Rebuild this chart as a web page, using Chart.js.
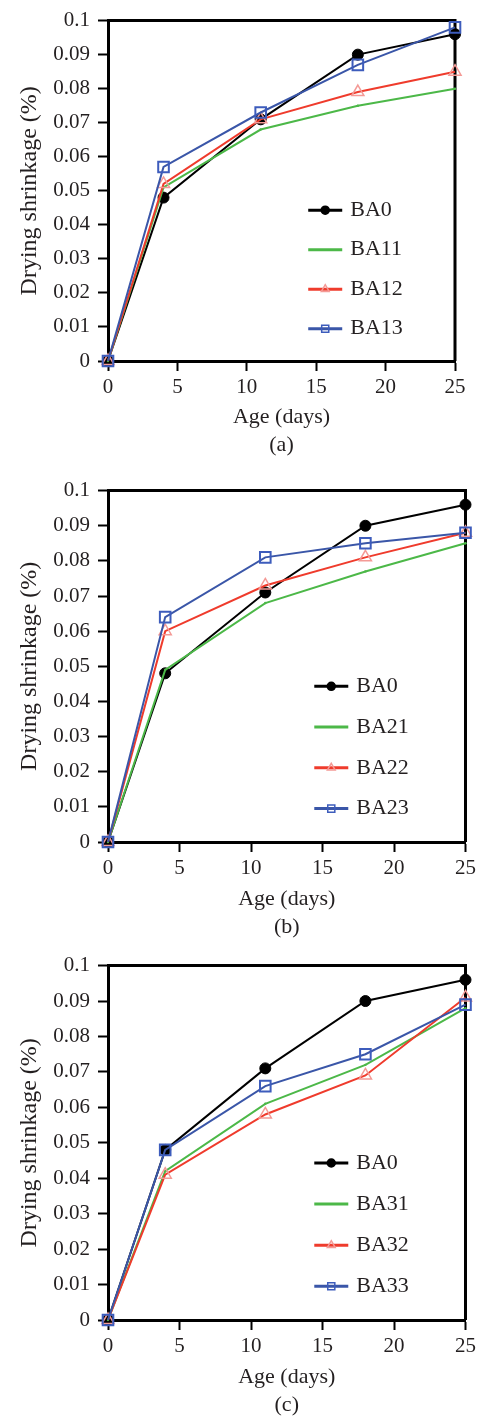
<!DOCTYPE html>
<html>
<head>
<meta charset="utf-8">
<script src="https://cdn.jsdelivr.net/npm/chart.js@4.4.0/dist/chart.umd.min.js"></script>
<style>
  html, body { margin: 0; padding: 0; background: #fff; }
  canvas { display: block; }
</style>
</head>
<body>
<canvas id="chartA" width="480" height="470"></canvas>
<canvas id="chartB" width="480" height="475"></canvas>
<canvas id="chartC" width="480" height="471"></canvas>
<script>
// data (drying shrinkage in %, age in days)
const ages = [0, 4, 11, 18, 25];
const xTickLabels = ["0", "5", "10", "15", "20", "25"];
const yTickLabels = ["0", "0.01", "0.02", "0.03", "0.04", "0.05", "0.06", "0.07", "0.08", "0.09", "0.1"];

const ba0 = [0, 0.048, 0.071, 0.090, 0.096];
const ba11 = [0, 0.051, 0.068, 0.075, 0.080];
const ba12 = [0, 0.052, 0.071, 0.079, 0.085];
const ba13 = [0, 0.057, 0.073, 0.087, 0.098];
const ba21 = [0, 0.049, 0.068, 0.077, 0.085];
const ba22 = [0, 0.060, 0.073, 0.081, 0.088];
const ba23 = [0, 0.064, 0.081, 0.085, 0.088];
const ba31 = [0, 0.042, 0.061, 0.072, 0.088];
const ba32 = [0, 0.041, 0.058, 0.069, 0.091];
const ba33 = [0, 0.048, 0.066, 0.075, 0.089];

const SERIF = '"Liberation Serif", "Times New Roman", serif';
const TEXT = "#231f20";

function black(label, values) {
  return {
    label, data: values.map((v, i) => ({ x: ages[i], y: v })),
    borderColor: "#000", backgroundColor: "#000", borderWidth: 2,
    pointStyle: "circle", pointRadius: 5.5, pointBackgroundColor: "#000",
    pointBorderColor: "#000", pointBorderWidth: 1, legendRadius: 4, order: 3
  };
}
function green(label, values) {
  return {
    label, data: values.map((v, i) => ({ x: ages[i], y: v })),
    borderColor: "#4cb848", backgroundColor: "#4cb848", borderWidth: 2,
    pointStyle: "circle", pointRadius: 1.2, pointBackgroundColor: "#4cb848",
    pointBorderColor: "#4cb848", pointBorderWidth: 0, legendRadius: 0, order: 2
  };
}
function red(label, values) {
  return {
    label, data: values.map((v, i) => ({ x: ages[i], y: v })),
    borderColor: "#ef3b2c", backgroundColor: "#ef3b2c", borderWidth: 2,
    pointStyle: "triangle", pointRadius: 7, pointBackgroundColor: "rgba(255,255,255,0)",
    pointBorderColor: "#f49a96", pointBorderWidth: 1.5, legendRadius: 4.5, order: 1
  };
}
function blue(label, values) {
  return {
    label, data: values.map((v, i) => ({ x: ages[i], y: v })),
    borderColor: "#3a56a8", backgroundColor: "#3a56a8", borderWidth: 2,
    pointStyle: "rect", pointRadius: 7.5, pointBackgroundColor: "rgba(255,255,255,0)",
    pointBorderColor: "#3d5cbc", pointBorderWidth: 2, legendRadius: 5, order: 0
  };
}

// top and right edges of the box
const frame = {
  id: "frame",
  beforeDatasetsDraw(chart) {
    const { ctx, chartArea: a } = chart;
    ctx.save();
    ctx.strokeStyle = "#000";
    ctx.lineWidth = 3;
    ctx.beginPath();
    ctx.moveTo(a.left, a.top);
    ctx.lineTo(a.right, a.top);
    ctx.lineTo(a.right, a.bottom);
    ctx.stroke();
    ctx.restore();
  }
};

// legend drawn inside the plot, lower right
const insideLegend = {
  id: "insideLegend",
  afterDatasetsDraw(chart) {
    const { ctx, chartArea: a } = chart;
    const w = a.right - a.left, h = a.bottom - a.top;
    const x0 = a.left + 0.577 * w;
    ctx.save();
    chart.data.datasets.forEach((ds, i) => {
      const y = a.top + 0.557 * h + i * 0.116 * h;
      ctx.strokeStyle = ds.borderColor;
      ctx.lineWidth = 3;
      ctx.beginPath();
      ctx.moveTo(x0, y);
      ctx.lineTo(x0 + 34, y);
      ctx.stroke();
      if (ds.legendRadius > 0) {
        ctx.strokeStyle = ds.pointBorderColor;
        ctx.fillStyle = ds.pointBackgroundColor;
        ctx.lineWidth = 1.5;
        Chart.helpers.drawPoint(ctx, {
          pointStyle: ds.pointStyle, rotation: 0,
          radius: ds.legendRadius, borderWidth: 1.5
        }, x0 + 17, y);
      }
      ctx.fillStyle = TEXT;
      ctx.font = "22px " + SERIF;
      ctx.textBaseline = "middle";
      ctx.textAlign = "left";
      ctx.fillText(ds.label, x0 + 42, y);
    });
    ctx.restore();
  }
};

function makeChart(id, datasets, caption, pad, xHeight, titlePad) {
  return new Chart(document.getElementById(id), {
    type: "line",
    data: { datasets },
    plugins: [frame, insideLegend],
    options: {
      responsive: false,
      animation: false,
      devicePixelRatio: 1,
      layout: { padding: pad },
      plugins: { legend: { display: false }, tooltip: { enabled: false } },
      elements: { line: { tension: 0 } },
      datasets: { line: { clip: false } },
      scales: {
        x: {
          type: "linear", min: 0, max: 25,
          afterFit: s => { s.height = xHeight; },
          border: { color: "#000", width: 3 },
          grid: { drawOnChartArea: false, drawTicks: true, tickLength: 10, tickWidth: 2, tickColor: "#000" },
          ticks: {
            stepSize: 5, padding: 4, color: TEXT,
            font: { family: SERIF, size: 21 },
            callback: (v, i) => xTickLabels[i]
          },
          title: {
            display: true, text: ["Age (days)", caption], color: TEXT,
            font: { family: SERIF, size: 22, lineHeight: "28px" },
            padding: { top: 0, bottom: titlePad }
          }
        },
        y: {
          min: 0, max: 0.1,
          afterFit: s => { s.width = 108; },
          border: { color: "#000", width: 3 },
          grid: { drawOnChartArea: false, drawTicks: true, tickLength: 10, tickWidth: 2, tickColor: "#000" },
          ticks: {
            stepSize: 0.01, padding: 8, color: TEXT,
            font: { family: SERIF, size: 21 },
            callback: (v, i) => yTickLabels[i]
          },
          title: {
            display: true, text: "Drying shrinkage (%)", color: TEXT,
            font: { family: SERIF, size: 24, lineHeight: 1.2 },
            padding: { top: 15, bottom: 0 }
          }
        }
      }
    }
  });
}

makeChart("chartA",
  [black("BA0", ba0), green("BA11", ba11), red("BA12", ba12), blue("BA13", ba13)],
  "(a)", { top: 15, right: 25, bottom: 0, left: 0 }, 109, 11);
makeChart("chartB",
  [black("BA0", ba0), green("BA21", ba21), red("BA22", ba22), blue("BA23", ba23)],
  "(b)", { top: 15, right: 13, bottom: 0, left: 0 }, 103, 4);
makeChart("chartC",
  [black("BA0", ba0), green("BA31", ba31), red("BA32", ba32), blue("BA33", ba33)],
  "(c)", { top: 18, right: 12, bottom: 0, left: 0 }, 96, -3);
</script>
</body>
</html>
